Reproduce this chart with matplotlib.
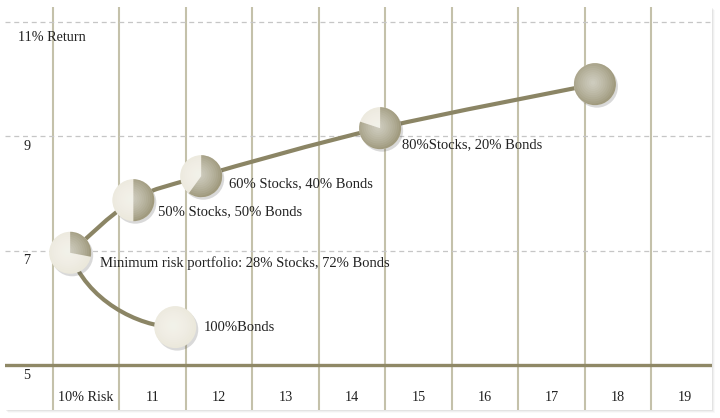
import matplotlib
matplotlib.use('Agg')
import matplotlib.pyplot as plt
import matplotlib.transforms as mtransforms
from matplotlib.patches import Circle, Wedge, Rectangle, PathPatch
from matplotlib.path import Path
import numpy as np

# portfolio points along the frontier (risk %, return %)
labels = ['100%Bonds', 'Minimum risk portfolio: 28% Stocks, 72% Bonds',
          '50% Stocks, 50% Bonds', '60% Stocks, 40% Bonds',
          '80%Stocks, 20% Bonds', '']
risk = [11.34, 9.76, 10.71, 11.73, 14.42, 17.65]
ret = [5.66, 6.96, 7.88, 8.30, 9.14, 9.91]
stock_share = [0.0, 0.28, 0.50, 0.60, 0.80, 1.0]

x_ticks = [10, 11, 12, 13, 14, 15, 16, 17, 18, 19]
x_tick_labels = ['10% Risk', '11', '12', '13', '14', '15', '16', '17', '18', '19']
y_ticks = [5, 7, 9, 11]
y_tick_labels = ['5', '7', '9', '11% Return']

# label offsets in pixels from the marker centre
label_offsets = [(28, 0), (30, -10), (25, -11), (28, -7), (22, -17), (0, 0)]

line_col = '#8b8565'
dark_col = '#a09a7e'
light_col = '#ebe8db'
text_col = '#222222'
font = ['Liberation Serif', 'DejaVu Serif']

fig = plt.figure(figsize=(7.2, 4.18), dpi=100)
fig.patch.set_facecolor('white')

# panel with a soft shadow
for i, a in enumerate([0.025, 0.035, 0.05]):
    d = 3 - i
    fig.patches.append(Rectangle(((5 + d) / 720, (8 - d) / 418), 707 / 720, 403 / 418,
                                 transform=fig.transFigure, facecolor='black', alpha=a,
                                 edgecolor='none', zorder=0))
ax = fig.add_axes([5 / 720, 8 / 418, 707 / 720, 403 / 418])
ax.set_facecolor('white')
ax.set_zorder(1)
for s in ax.spines.values():
    s.set_visible(False)
ax.set_xticks([])
ax.set_yticks([])
ax.set_xlim(8.78, 19.41)
ax.set_ylim(4.21, 11.26)

# grid
for t in x_ticks:
    ax.axvline(t - 0.5, color='#c4c1aa', lw=1.5, zorder=1)
for t in y_ticks[1:]:
    ax.axhline(t, color='#c6c6c6', lw=0.9, ls=(0, (4, 3)), zorder=1)
ax.axhline(y_ticks[0], color='#8f8866', lw=2.4, zorder=2)

# axis labels drawn inside the grid
for t, lab in zip(x_ticks, x_tick_labels):
    ax.text(t, 4.42, lab, ha='center', va='center', fontsize=10.2, family=font, color=text_col)
for t, lab in zip(y_ticks, y_tick_labels):
    if lab.endswith('Return'):
        ax.text(8.98, t - 0.27, lab, ha='left', va='center', fontsize=10.2, family=font, color=text_col)
    else:
        ax.text(9.11, t - 0.18, lab, ha='center', va='center', fontsize=10.2, family=font, color=text_col)

# curve drawn in pixel space: bond side bends into the minimum-risk point,
# stock side is a Catmull-Rom spline from there on
px = ax.transData.transform(np.column_stack([risk, ret]))


def catmull(p, scale=1 / 6):
    verts = [p[0]]
    codes = [Path.MOVETO]
    n = len(p)
    for i in range(n - 1):
        p0 = p[max(i - 1, 0)]
        p1 = p[i]
        p2 = p[i + 1]
        p3 = p[min(i + 2, n - 1)]
        verts += [p1 + (p2 - p0) * scale, p2 - (p3 - p1) * scale, p2]
        codes += [Path.CURVE4] * 3
    return verts, codes


b, m, nxt = px[0], px[1], px[2]
low_verts = [b, b + np.array([-0.35 * (b[0] - m[0]), 0]), m - (nxt - b) * 0.37, m]
low_codes = [Path.MOVETO, Path.CURVE4, Path.CURVE4, Path.CURVE4]
up_verts, up_codes = catmull(px[1:])
for v, c in [(low_verts, low_codes), (up_verts, up_codes)]:
    ax.add_patch(PathPatch(Path(v, c), facecolor='none', edgecolor=line_col,
                           lw=3, capstyle='round', transform=None, zorder=3))

# pie-shaped spheres
r = 0.21  # inches
for x, y, share in zip(risk, ret, stock_share):
    tr = fig.dpi_scale_trans + mtransforms.ScaledTranslation(x, y, ax.transData)
    sh = Circle((0.02, -0.025), r, transform=tr, facecolor='#555555', alpha=0.22,
                edgecolor='none', zorder=4)
    ax.add_patch(sh)
    base = Circle((0, 0), r, transform=tr, facecolor=light_col, edgecolor='none', zorder=5)
    ax.add_patch(base)
    if share > 0:
        w = Wedge((0, 0), r, 90 - share * 360, 90, transform=tr, facecolor=dark_col,
                  edgecolor='none', zorder=6)
        ax.add_patch(w)
    # radial highlight
    for k in range(10):
        hl = Circle((-0.02, 0.015), r * (1 - k / 10), transform=tr, facecolor='white',
                    alpha=0.07, edgecolor='none', zorder=7)
        ax.add_patch(hl)
        hl.set_clip_path(base)

for x, y, lab, off in zip(risk, ret, labels, label_offsets):
    if lab:
        ax.annotate(lab, (x, y), xytext=off, textcoords='offset pixels', ha='left',
                    va='center', fontsize=10.5, family=font, color=text_col, zorder=8)

fig.savefig('out.png', dpi=100, facecolor='white')
